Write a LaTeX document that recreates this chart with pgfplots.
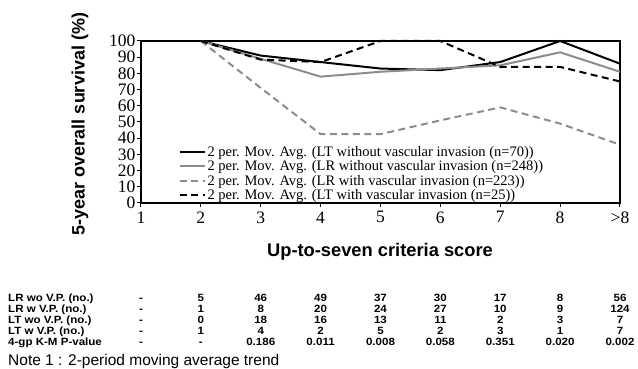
\documentclass[border=0pt]{standalone}
\usepackage{pgfplots}
\pgfplotsset{compat=1.18}
\usepackage{fontspec}
\setmainfont{Liberation Serif}
\newfontfamily\arial{Liberation Sans}
\definecolor{lgray}{gray}{0.55}
\begin{document}
\begin{tikzpicture}[x=1pt,y=1pt]
\path[use as bounding box] (-141,-166) rectangle (497,203);
\begin{axis}[
  at={(0,0)}, anchor=south west,
  scale only axis, width=479pt, height=162pt,
  xmin=1, xmax=9, ymin=0, ymax=100,
  xtick={1,...,9}, xticklabels={1,2,3,4,5,6,7,8,>8},
  ytick={0,10,...,100},
  tick align=outside, xtick pos=left, ytick pos=left,
  major tick length=4pt,
  axis line style={line width=1.3pt},
  tick style={line width=1pt, black},
  ticklabel style={font=\fontsize{17.5}{17.5}\selectfont},
  /pgf/number format/assume math mode=true,
  yticklabel style={xshift=2pt},
  xticklabel style={yshift=-1pt},
  legend style={draw=none, fill=none, at={(rel axis cs:0.078,0.0)}, anchor=south west,
    font=\fontsize{14.5}{14.5}\selectfont, row sep=-1.3pt, inner sep=0pt},
  legend cell align=left,
  legend image code/.code={\draw[#1] (0pt,0pt) -- (25pt,0pt);},
  clip=false,
]
\addplot[black, line width=2pt] coordinates {(2,100) (3,91) (4,87) (5,83) (6,82) (7,87) (8,100) (9,86)};
\addlegendentry{2 per. Mov. Avg. (LT without vascular invasion (n=70))}
\addplot[lgray, line width=2pt] coordinates {(2,100) (3,89) (4,78) (5,81) (6,83) (7,85) (8,93) (9,81)};
\addlegendentry{2 per. Mov. Avg. (LR without vascular invasion (n=248))}
\addplot[lgray, line width=2pt, dash pattern=on 7pt off 4.5pt] coordinates {(2,100) (3,71) (4,42.5) (5,42.5) (6,51) (7,59) (8,49) (9,36)};
\addlegendentry{2 per. Mov. Avg. (LR with vascular invasion (n=223))}
\addplot[black, line width=2pt, dash pattern=on 7pt off 4.5pt] coordinates {(2,100) (3,88.5) (4,87) (5,100) (6,100) (7,84) (8,84) (9,75)};
\addlegendentry{2 per. Mov. Avg. (LT with vascular invasion (n=25))}
\end{axis}
\node[rotate=90, font=\arial\bfseries\fontsize{18}{18}\selectfont] at (-61,79) {5-year overall survival (\%)};
\node[font=\arial\bfseries\fontsize{18.3}{18.3}\selectfont] at (239,-49) {Up-to-seven criteria score};
\begin{scope}[every node/.style={font=\arial\bfseries\fontsize{10.5}{10.5}\selectfont, inner sep=0pt, xscale=1.1, anchor=base}]
\node[anchor=base west] at (-133,-98.8) {LR wo V.P. (no.)};
\node[anchor=base west] at (-133,-109.8) {LR w V.P. (no.)};
\node[anchor=base west] at (-133,-120.8) {LT wo V.P. (no.)};
\node[anchor=base west] at (-133,-131.8) {LT w V.P. (no.)};
\node[anchor=base west] at (-133,-142.8) {4-gp K-M P-value};
\foreach \v [count=\k] in {-,5,46,49,37,30,17,8,56} \node at ({(\k-1)*59.875},-98.8) {\v};
\foreach \v [count=\k] in {-,1,8,20,24,27,10,9,124} \node at ({(\k-1)*59.875},-109.8) {\v};
\foreach \v [count=\k] in {-,0,18,16,13,11,2,3,7} \node at ({(\k-1)*59.875},-120.8) {\v};
\foreach \v [count=\k] in {-,1,4,2,5,2,3,1,7} \node at ({(\k-1)*59.875},-131.8) {\v};
\foreach \v [count=\k] in {-,-,0.186,0.011,0.008,0.058,0.351,0.020,0.002} \node at ({(\k-1)*59.875},-142.8) {\v};
\end{scope}
\node[anchor=base west, inner sep=0pt, font=\arial\fontsize{15.5}{15.5}\selectfont] at (-133,-162.3) {Note 1 : 2-period moving average trend};
\end{tikzpicture}
\end{document}
